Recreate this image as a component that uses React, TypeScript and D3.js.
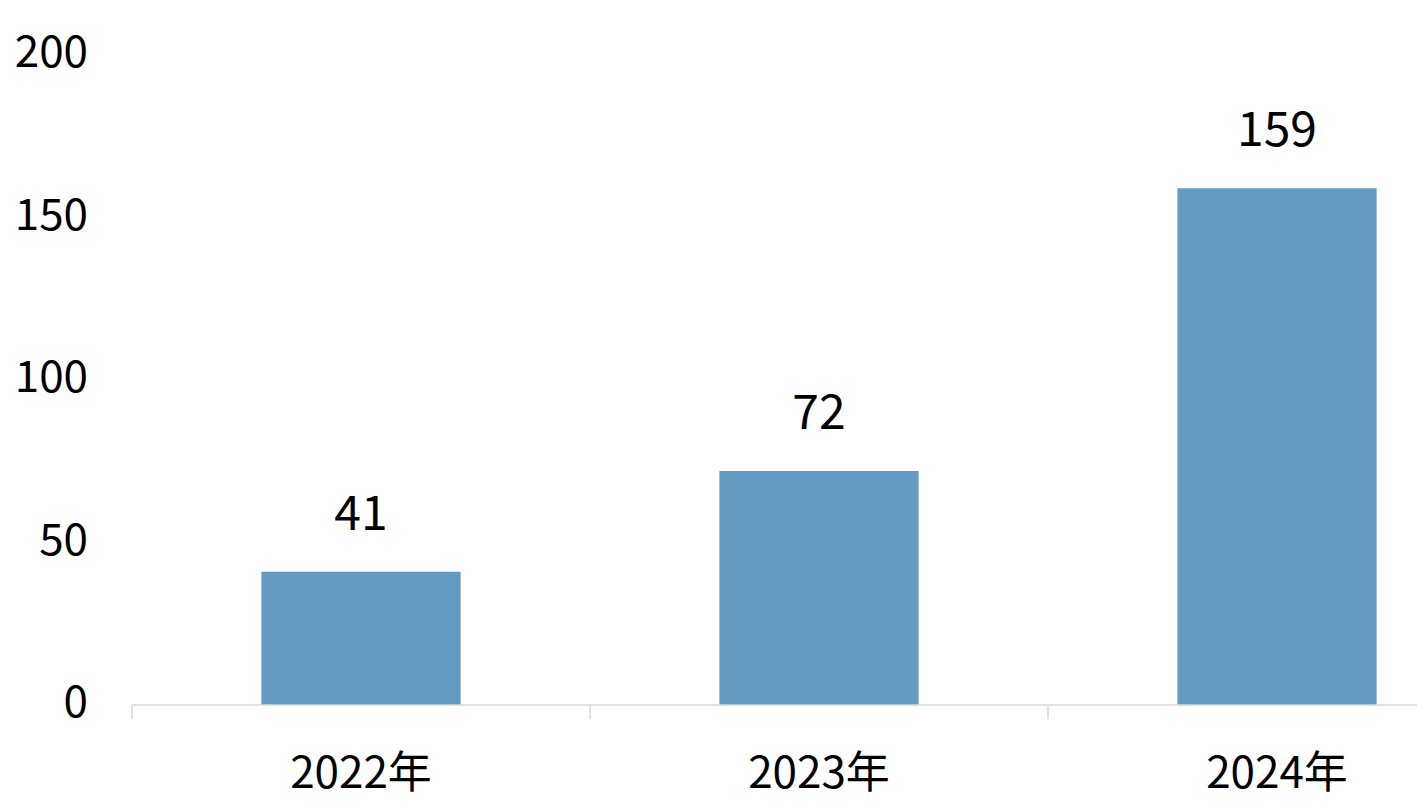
import * as d3 from "d3";
import React, { useEffect, useRef } from "react";

const years = ["2022年", "2023年", "2024年"];
const counts = [41, 72, 159];
const yTicks = [0, 50, 100, 150, 200];

const W = 1417;
const H = 812;

export default function App() {
  const ref = useRef<SVGSVGElement>(null);

  useEffect(() => {
    if (!ref.current) return;
    const svg = d3.select(ref.current);
    svg.selectChildren().remove();

    const font = "'Noto Sans CJK SC', 'Noto Sans', sans-serif";

    // plot area runs past the right edge, like the original
    const x = d3
      .scaleBand<string>()
      .domain(years)
      .range([132, 1506])
      .paddingInner(0.565)
      .paddingOuter(0.2825);

    const y = d3.scaleLinear().domain([0, 200]).range([705, 55]);

    // bars
    svg
      .append("g")
      .selectAll("rect")
      .data(years)
      .join("rect")
      .attr("x", (d) => x(d)!)
      .attr("y", (d, i) => y(counts[i]))
      .attr("width", x.bandwidth())
      .attr("height", (d, i) => y(0) - y(counts[i]))
      .attr("fill", "#639ac2");

    // x axis line + ticks on band edges
    const edges = [...years.map((d) => x(d)! - (x.step() - x.bandwidth()) / 2), 1506];
    const ax = svg.append("g").attr("stroke", "#d9d9d9").attr("stroke-width", 1.5);
    ax.append("line").attr("x1", 132).attr("x2", 1506).attr("y1", y(0)).attr("y2", y(0));
    ax.selectAll("line.tick")
      .data(edges)
      .join("line")
      .attr("class", "tick")
      .attr("x1", (d) => d)
      .attr("x2", (d) => d)
      .attr("y1", y(0))
      .attr("y2", y(0) + 14);

    // y tick labels
    svg
      .append("g")
      .attr("font-family", font)
      .attr("font-size", 44)
      .attr("text-anchor", "end")
      .selectAll("text")
      .data(yTicks)
      .join("text")
      .attr("x", 88)
      .attr("y", (d) => y(d) - 3)
      .attr("dy", "0.35em")
      .text((d) => d);

    // x labels
    svg
      .append("g")
      .attr("font-family", font)
      .attr("font-size", 44)
      .attr("text-anchor", "middle")
      .selectAll("text")
      .data(years)
      .join("text")
      .attr("x", (d) => x(d)! + x.bandwidth() / 2)
      .attr("y", 788)
      .text((d) => d);

    // value labels
    svg
      .append("g")
      .attr("font-family", font)
      .attr("font-size", 48)
      .attr("text-anchor", "middle")
      .selectAll("text")
      .data(years)
      .join("text")
      .attr("x", (d) => x(d)! + x.bandwidth() / 2)
      .attr("y", (d, i) => y(counts[i]) - 42)
      .text((d, i) => counts[i]);
  }, []);

  return (
    <div style={{ position: "fixed", left: 0, top: 0, background: "#fff" }}>
      <svg ref={ref} width={W} height={H} style={{ display: "block" }}></svg>
    </div>
  );
}
